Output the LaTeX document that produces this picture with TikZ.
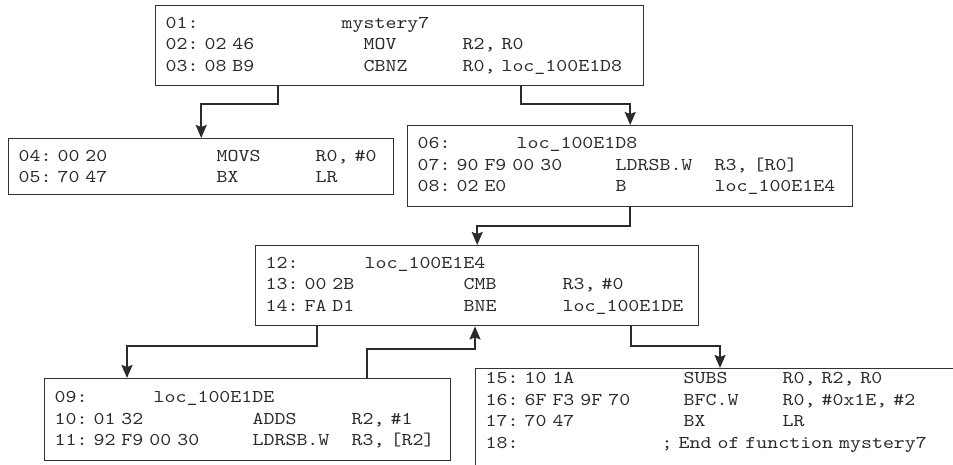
\documentclass[tikz,border=0pt]{standalone}
\usepackage{fontspec}
\newfontfamily\asmfont[FakeStretch=1.16]{lmmono10-regular.otf}
\usetikzlibrary{positioning,calc,arrows.meta}
\definecolor{cBox}{HTML}{333333}
\definecolor{cInk}{HTML}{2B2B2B}
\newlength\cw
\setlength\cw{11pt}
\newcommand{\asmsel}{\asmfont\fontsize{18}{21.5}\selectfont
  \frenchspacing\spaceskip=\cw\xspaceskip=\cw\relax}
\newcommand{\asmln}[4]{\makebox[18\cw][l]{#1: #2}\makebox[9\cw][l]{#3}\mbox{#4}}
\newcommand{\asmlb}[3]{\makebox[#2\cw][l]{#1:}\mbox{#3}}
\tikzset{
  blk/.style={draw=cBox,line width=1.4pt,anchor=north west,inner xsep=10pt,inner ysep=4pt,align=left,text=cInk,font=\asmsel},
  flow/.style={-{Stealth[length=13pt,width=11pt,inset=2pt]},line width=1.9pt,cInk},
}

\begin{document}
\begin{tikzpicture}[x=1pt,y=-1pt]
  \useasboundingbox (0,0) rectangle (953,465);
  \clip (0,0) rectangle (953,465);
  \node[blk,text width=468pt,minimum height=80pt] (entry) at (155,5)
    {\asmlb{01}{16}{mystery7}\\\asmln{02}{02 46}{MOV}{R2, R0}\\\asmln{03}{08 B9}{CBNZ}{R0, loc\_100E1D8}};
  \node[blk,text width=365pt,minimum height=56pt] (ret) at (8,138)
    {\asmln{04}{00 20}{MOVS}{R0, \#0}\\\asmln{05}{70 47}{BX}{LR}};
  \node[blk,text width=425pt,minimum height=81pt] (loop) at (407,125)
    {\asmlb{06}{9}{loc\_100E1D8}\\\asmln{07}{90 F9 00 30}{LDRSB.W}{R3, [R0]}\\\asmln{08}{02 E0}{B}{loc\_100E1E4}};
  \node[blk,text width=423pt,minimum height=80pt] (cmp) at (255,245)
    {\asmlb{12}{9}{loc\_100E1E4}\\\asmln{13}{00 2B}{CMB}{R3, \#0}\\\asmln{14}{FA D1}{BNE}{loc\_100E1DE}};
  \node[blk,text width=386pt,minimum height=82pt] (body) at (44,378)
    {\asmlb{09}{9}{loc\_100E1DE}\\\asmln{10}{01 32}{ADDS}{R2, \#1}\\\asmln{11}{92 F9 00 30}{LDRSB.W}{R3, [R2]}};
  \node[blk,text width=500pt,text depth=100pt] (exit) at (475,368)
    {\asmln{15}{10 1A}{SUBS}{R0, R2, R0}\\\asmln{16}{6F F3 9F 70}{BFC.W}{R0, \#0x1E, \#2}\\\asmln{17}{70 47}{BX}{LR}\\\asmlb{18}{16}{; End of function mystery7}};
  % branches
  \draw[flow] ($(entry.south west)+(123,0)$) -- ++(0,18) -| (ret.north);
  \draw[flow] ($(entry.south east)+(-123,0)$) -- ++(0,18) -| (loop.north);
  \draw[flow] (loop.south) -- ++(0,19) -| (cmp.north);
  \draw[flow] ($(cmp.south west)+(62,0)$) -- ++(0,20) -| ($(body.north west)+(83,0)$);
  \draw[flow] ($(body.north west)+(323,0)$) -- ++(0,-29) -| ($(cmp.south west)+(220,0)$);
  \draw[flow] ($(cmp.south east)+(-68,0)$) -- ++(0,20) -| ($(exit.north west)+(245,0)$);
\end{tikzpicture}
\end{document}
